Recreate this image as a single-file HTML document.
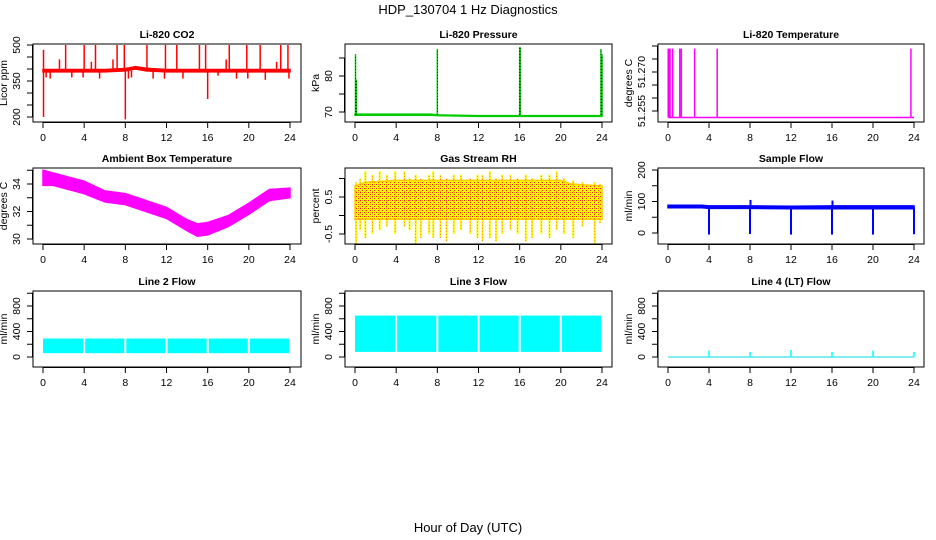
<!DOCTYPE html>
<html><head><meta charset="utf-8">
<style>
html,body{margin:0;padding:0;background:#fff;}
svg{display:block;font-family:"Liberation Sans",sans-serif;}
</style></head>
<body>
<svg id="fig" width="936" height="540" viewBox="0 0 936 540" xmlns="http://www.w3.org/2000/svg">
<rect width="936" height="540" fill="#fff"/>
<text x="468" y="14" text-anchor="middle" font-size="13">HDP_130704  1 Hz Diagnostics</text>
<text x="468" y="532" text-anchor="middle" font-size="13">Hour of Day (UTC)</text>
</svg>
<script>
// ---- shared x axis ----
const hourTicks = [0,4,8,12,16,20,24];
const flowGapHours = [4,8,12,16,20];

// ---- CO2 ----
const co2Hours = [0,2,4,6,8,9,10,12,14,16,18,20,22,24];
const co2Low  = [388,388,388,388,392,400,392,388,388,388,388,388,388,388];
const co2High = [398,398,398,398,402,410,403,398,398,398,398,398,398,398];
const co2SpikeHours = [0.05,0.05,2.2,4,5.1,7.2,7.9,10.1,11.9,13,15.2,15.8,18.1,19.8,21.1,23.1,23.8,1.6,4.7,6.8,17.8,22.7,8,16,0.3,0.7,2.8,3.9,5.5,8.3,8.6,10.7,11.8,13.6,17,18.8,19.9,21.6,23.9];
const co2SpikeVals  = [480,200,500,500,500,500,500,500,500,500,500,500,500,500,500,500,500,440,430,440,440,430,190,275,365,360,365,365,360,360,365,360,360,360,372,360,360,355,360];

// ---- Pressure ----
const presHours = [0,7.4,8,12,16,24];
const presLow   = [69.1,69.1,69.0,68.8,68.8,68.8];
const presHigh  = [69.4,69.4,69.2,69.0,69.0,69.0];
const presSpikeHours = [0.05,0.12,8,16,16.05,23.9,24];
const presSpikeVals  = [86,79,87.5,88,88,87.5,86];

// ---- Li-820 Temperature ----
const tempBase = 51.2525;
const tempSpikeHours = [0.02,0.1,0.15,0.2,0.45,1.15,1.3,2.6,4.8,23.7];
const tempSpikeVals  = [51.279,51.279,51.279,51.279,51.279,51.279,51.279,51.279,51.279,51.279];
const tempTickLabels = ["51.255","51.270"];

// ---- Ambient Box Temperature ----
const ambHours = [0,1,2,4,6,8,10,12,14,15,16,18,20,22,24];
const ambLow   = [33.9,33.9,33.7,33.3,32.7,32.5,32.0,31.5,30.6,30.2,30.3,30.9,31.8,32.8,33.0];
const ambHigh  = [35.0,34.8,34.6,34.2,33.5,33.3,32.8,32.3,31.4,31.1,31.2,31.7,32.6,33.6,33.7];

// ---- Gas Stream RH ----
const rhHours = [0,1,4,8,12,16,20,21,24];
const rhLow   = [-0.1,-0.1,-0.1,-0.1,-0.1,-0.1,-0.1,-0.1,-0.1];
const rhHigh  = [0.8,0.9,0.95,0.95,0.95,0.95,0.95,0.85,0.8];
const rhSpikeHours = [0.1,0.5,1.0,1.7,2.4,3.1,3.9,4.8,5.3,5.9,6.4,7.2,7.6,8.3,8.9,9.6,10.3,11.2,11.9,12.4,13.1,13.7,14.3,15.1,15.8,16.6,17.2,18.1,18.9,19.6,20.3,21.2,22.1,23.3,23.8];
const rhSpikeUp   = [0.9,1.0,1.2,1.1,1.2,1.1,1.2,1.2,1.0,1.1,1.0,1.1,1.2,1.1,1.0,1.1,1.1,1.0,1.1,1.1,1.2,1.0,1.1,1.1,1.0,1.1,1.0,1.1,1.1,1.2,1.0,0.95,0.9,0.9,0.85];
const rhSpikeDown = [-0.75,-0.4,-0.6,-0.5,-0.4,-0.3,-0.5,-0.3,-0.4,-0.75,-0.6,-0.5,-0.6,-0.6,-0.7,-0.5,-0.4,-0.5,-0.6,-0.7,-0.6,-0.7,-0.5,-0.4,-0.5,-0.7,-0.6,-0.5,-0.6,-0.4,-0.5,-0.6,-0.3,-0.75,-0.2];

// ---- Sample Flow ----
const sfHours = [0,3.3,4,8,12,16,20,24];
const sfLow   = [80,80,78,78,77,77,77,77];
const sfHigh  = [88,88,86,86,85,86,86,86];
const sfSpikeHours = [4,8,12,16,20,24,8.05,16.05];
const sfSpikeVals  = [-5,-3,-5,-5,-5,-4,105,103];

// ---- Line flows ----
const l2Low = 60,  l2High = 290;
const l3Low = 80,  l3High = 650;
const l4Base = 0;
const l4SpikeHours = [4,8,12,16,20,24];
const l4SpikeVals  = [100,80,110,80,100,80];

const NS = "http://www.w3.org/2000/svg";
const svg = document.getElementById('fig');
function mk(tag, attrs, parent){
  const e = document.createElementNS(NS, tag);
  for (const k in attrs) e.setAttribute(k, attrs[k]);
  (parent||svg).appendChild(e);
  return e;
}
function txt(parent, x, y, s, opts){
  const t = mk('text', Object.assign({x:x, y:y, 'font-size':10.5, 'text-anchor':'middle'}, opts||{}), parent);
  t.textContent = s;
  return t;
}

const cols = [{bx0:33,bx1:301,x0:43,x24:290},{bx0:345,bx1:612,x0:355,x24:602},{bx0:658,bx1:924,x0:668,x24:914}];
const rows = [{by0:44,by1:122},{by0:168,by1:244},{by0:291,by1:367}];

function makePanel(name, title, c, r, ylab, yTicks, yLabels, yMinV, yMaxV, yMinPx, yMaxPx, yLabelText){
  const C = cols[c], R = rows[r];
  const g = mk('g', {});
  
  
  const xs = h => C.x0 + (C.x24 - C.x0) * h / 24;
  const ys = v => yMinPx + (yMaxPx - yMinPx) * (v - yMinV) / (yMaxV - yMinV);
  const plot = mk('g', {}, g);
  
  
  const frame = mk('rect', {x:C.bx0, y:R.by0, width:C.bx1-C.bx0, height:R.by1-R.by0, fill:'none', stroke:'#000', 'stroke-width':1}, g);
  
  
  const t = txt(g, (C.bx0+C.bx1)/2, R.by0-6, title, {'font-weight':'bold'});
  
  
  const xa = mk('g', {}, g);
  
  
  mk('line', {x1:xs(0), x2:xs(24), y1:R.by1+0.5, y2:R.by1+0.5, stroke:'#000'}, xa);
  hourTicks.forEach(h => {
    mk('line', {x1:xs(h), x2:xs(h), y1:R.by1, y2:R.by1+6, stroke:'#000'}, xa);
    const l = txt(xa, xs(h), R.by1+19, String(h));
    
    
  });
  const ya = mk('g', {}, g);
  
  
  mk('line', {x1:C.bx0-0.5, x2:C.bx0-0.5, y1:ys(yTicks[0]), y2:ys(yTicks[yTicks.length-1]), stroke:'#000'}, ya);
  yTicks.forEach(v => mk('line', {x1:C.bx0-6, x2:C.bx0, y1:ys(v), y2:ys(v), stroke:'#000'}, ya));
  yLabels.forEach((v,i) => {
    const lx = C.bx0-13, ly = ys(v);
    const l = txt(ya, lx, ly, yLabelText ? yLabelText[i] : String(v), {transform:`rotate(-90 ${lx} ${ly})`});
    
    
  });
  const yl = C.bx0 - 26, ymid = (R.by0+R.by1)/2;
  const yt = txt(ya, yl, ymid, ylab, {transform:`rotate(-90 ${yl} ${ymid})`});
  
  
  return {plot, xs, ys};
}
function band(p, hours, lo, hi, color, name){
  let pts = hours.map((h,i) => p.xs(h)+','+p.ys(hi[i]));
  for (let i = hours.length-1; i >= 0; i--) pts.push(p.xs(hours[i])+','+p.ys(lo[i]));
  const e = mk('polygon', {points:pts.join(' '), fill:color, stroke:color, 'stroke-width':1.5}, p.plot);
  
  
  return e;
}
function spikes(p, hours, vals, base, color, name, w, dash){
  hours.forEach((h,i) => {
    const a = {x1:p.xs(h), x2:p.xs(h), y1:p.ys(base), y2:p.ys(vals[i]), stroke:color, 'stroke-width':w||1.5};
    if (dash) a['stroke-dasharray'] = dash;
    const e = mk('line', a, p.plot);
    
    
  });
}

// CO2
let p = makePanel('co2','Li-820 CO2',0,0,'Licor ppm',[200,250,300,350,400,450,500],[200,350,500],200,500,117,45);
band(p, co2Hours, co2Low, co2High, '#f00', 'co2-series');
spikes(p, co2SpikeHours, co2SpikeVals, 393, '#f00', 'co2-spike');

// Pressure
p = makePanel('pressure','Li-820 Pressure',1,0,'kPa',[70,75,80,85],[70,80],70,80,112,76);
band(p, presHours, presLow, presHigh, '#0c0', 'pressure-series');
spikes(p, presSpikeHours, presSpikeVals, 69.2, '#0c0', 'pressure-spike', 1.5);
spikes(p, presSpikeHours, presSpikeVals, 69.2, '#000', 'pressure-spike-dots', 0.7, '1 2');

// Li-820 Temperature
p = makePanel('li820-temp','Li-820 Temperature',2,0,'degrees C',[51.255,51.26,51.265,51.27,51.275,51.28],[51.255,51.27],51.255,51.27,111,72,tempTickLabels);
(function(){
  const e = mk('line', {x1:p.xs(0.02), x2:p.xs(24), y1:p.ys(tempBase), y2:p.ys(tempBase), stroke:'#f0f', 'stroke-width':1.5}, p.plot);
  
  
})();
spikes(p, tempSpikeHours, tempSpikeVals, tempBase, '#f0f', 'li820-temp-spike', 1.5);

// Ambient
p = makePanel('ambient','Ambient Box Temperature',0,1,'degrees C',[30,31,32,33,34,35],[30,32,34],30,34,239,184);
band(p, ambHours, ambLow, ambHigh, '#f0f', 'ambient-series');

// RH
p = makePanel('rh','Gas Stream RH',1,1,'percent',[-0.5,0,0.5,1],[-0.5,0.5],-0.5,0.5,234,197);
spikes(p, rhSpikeHours, rhSpikeUp, 0.4, '#ff0', 'rh-spike-up', 2);
spikes(p, rhSpikeHours, rhSpikeDown, 0.4, '#ff0', 'rh-spike-down', 2);
(function(){
  const defs = mk('defs', {});
  const pat = mk('pattern', {id:'rhpat', width:4, height:4, patternUnits:'userSpaceOnUse'}, defs);
  mk('rect', {width:4, height:4, fill:'#ff0'}, pat);
  mk('rect', {x:0, y:0, width:1, height:1, fill:'#e22'}, pat);
  mk('rect', {x:2, y:2, width:1, height:1, fill:'#e22'}, pat);
  mk('rect', {x:2, y:0, width:1, height:1, fill:'#f90'}, pat);
  const b = band(p, rhHours, rhLow, rhHigh, '#ff0', 'rh-series');
  b.setAttribute('fill', 'url(#rhpat)');
  b.setAttribute('stroke', '#fc0');
})();
spikes(p, rhSpikeHours, rhSpikeUp, 0.4, '#e33', 'rh-spike-dots', 0.7, '1 2');
spikes(p, rhSpikeHours, rhSpikeDown, 0.4, '#e33', 'rh-spike-dots', 0.7, '1 2');

// Sample flow
p = makePanel('sample-flow','Sample Flow',2,1,'ml/min',[0,50,100,150,200],[0,100,200],0,200,233,170);
band(p, sfHours, sfLow, sfHigh, '#00f', 'sample-flow-series');
spikes(p, sfSpikeHours, sfSpikeVals, 82, '#00f', 'sample-flow-spike', 2);

// Line flows
function flowBlocks(p, lo, hi, name){
  const edges = [0].concat(flowGapHours).concat([24]);
  for (let i = 0; i < edges.length-1; i++){
    const a = edges[i] + (i ? 0.1 : 0), b = edges[i+1] - 0.1;
    const e = mk('rect', {x:p.xs(a), y:p.ys(hi), width:p.xs(b)-p.xs(a), height:p.ys(lo)-p.ys(hi), fill:'#0ff'}, p.plot);
    
    
  }
}
const flowTicks = [0,200,400,600,800,1000];
p = makePanel('line2-flow','Line 2 Flow',0,2,'ml/min',flowTicks,[0,400,800],0,800,357,306);
flowBlocks(p, l2Low, l2High, 'line2-flow-series');
p = makePanel('line3-flow','Line 3 Flow',1,2,'ml/min',flowTicks,[0,400,800],0,800,357,306);
flowBlocks(p, l3Low, l3High, 'line3-flow-series');
p = makePanel('line4-flow','Line 4 (LT) Flow',2,2,'ml/min',flowTicks,[0,400,800],0,800,357,306);
(function(){
  const e = mk('line', {x1:p.xs(0), x2:p.xs(24), y1:p.ys(l4Base), y2:p.ys(l4Base), stroke:'#0dd', 'stroke-width':1}, p.plot);
  
  
})();
spikes(p, l4SpikeHours, l4SpikeVals, l4Base, '#0ff', 'line4-flow-spike', 1.5);
</script>
</body></html>
